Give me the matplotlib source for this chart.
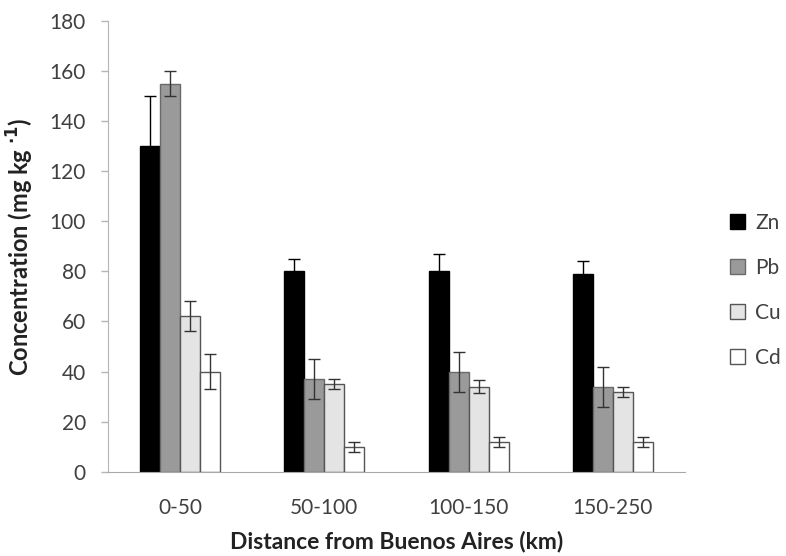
import matplotlib
matplotlib.use("Agg")
import matplotlib.pyplot as plt
from matplotlib.patches import Patch
import numpy as np

plt.rcParams['font.family'] = ['Lato', 'DejaVu Sans']

categories = ['0-50', '50-100', '100-150', '150-250']
metals = ['Zn', 'Pb', 'Cu', 'Cd']
zn = [130, 80, 80, 79]
zn_err = [20, 5, 7, 5]
pb = [155, 37, 40, 34]
pb_err = [5, 8, 8, 8]
cu = [62, 35, 34, 32]
cu_err = [6, 2, 2.5, 2]
cd = [40, 10, 12, 12]
cd_err = [7, 2, 2, 2]

values = [zn, pb, cu, cd]
errors = [zn_err, pb_err, cu_err, cd_err]
fills = ['#000000', '#9a9a9a', '#e4e4e4', '#ffffff']
edges = ['#000000', '#6a6a6a', '#555555', '#555555']
err_colors = ['#000000', '#333333', '#333333', '#333333']

fig = plt.figure(figsize=(7.86, 5.56), dpi=100)
ax = fig.add_axes([0.1374, 0.1516, 0.7341, 0.8106])

x = np.arange(len(categories))
w = 0.139
for i, (vals, errs) in enumerate(zip(values, errors)):
    pos = x + (i - 1.5) * w
    ax.bar(pos, vals, width=w, color=fills[i], edgecolor=edges[i],
           linewidth=1.0, label=metals[i], zorder=2)
    ax.errorbar(pos, vals, yerr=errs, fmt='none', ecolor=err_colors[i],
                elinewidth=1.0, capsize=4.5, capthick=1.0, zorder=3)

ax.set_xlim(-0.5, len(categories) - 0.5)
ax.set_ylim(0, 180)
ax.set_yticks(np.arange(0, 181, 20))
ax.set_xticks(x)
ax.set_xticklabels(categories)

for s in ['top', 'right']:
    ax.spines[s].set_visible(False)
ax.spines['left'].set_color('#b5b5b5')
ax.spines['bottom'].set_color('#a8a8a8')
ax.tick_params(axis='y', colors='#b5b5b5', labelcolor='#404040',
               labelsize=15, length=5, width=1, pad=11)
ax.tick_params(axis='x', length=0, labelcolor='#404040', labelsize=15, pad=19)

ax.set_ylabel(r'Concentration (mg kg $^{\mathbf{\cdot 1}}$)', fontsize=17,
              fontweight='bold', color='#222222', labelpad=10)
ax.set_xlabel('Distance from Buenos Aires (km)', fontsize=16.5,
              fontweight='bold', color='#222222', labelpad=9)

handles = [Patch(facecolor=fills[i], edgecolor=edges[i], linewidth=1.0,
                 label=metals[i]) for i in range(4)]
fig.legend(handles=handles, loc='upper left', bbox_to_anchor=(0.905, 0.651),
           frameon=False, fontsize=15, handlelength=0.7, handleheight=0.7,
           handletextpad=0.5, labelspacing=1.2, labelcolor='#404040')

fig.savefig('out.png', dpi=100)
